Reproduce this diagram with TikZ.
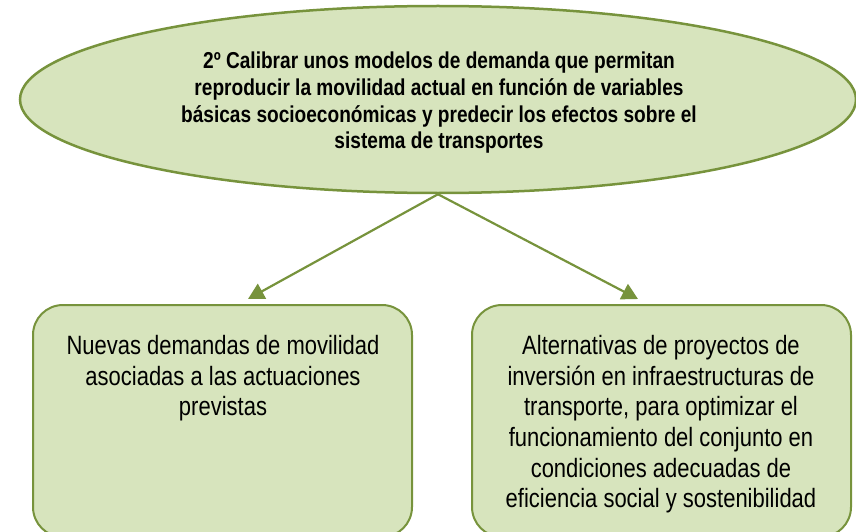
\documentclass[tikz,border=0pt]{standalone}
\usepackage{fontspec}
\setmainfont{Liberation Sans}[FakeStretch=0.83]
\usetikzlibrary{shapes.geometric,arrows.meta}
\definecolor{olivefill}{HTML}{D7E4BD}
\definecolor{oliveline}{HTML}{77933C}
\begin{document}
\begin{tikzpicture}[x=1pt,y=-1pt,
  oval/.style={ellipse,draw=oliveline,fill=olivefill,line width=2.5pt,
    minimum width=836pt,minimum height=187pt,inner sep=0pt},
  ovaltext/.style={align=center,inner sep=0pt,
    font=\fontsize{23}{26.7}\selectfont\bfseries},
  card/.style={rectangle,rounded corners=30pt,draw=oliveline,fill=olivefill,
    line width=2pt,minimum width=379pt,minimum height=232pt,inner sep=0pt},
  cardtext/.style={align=center,anchor=north,inner sep=0pt,
    font=\fontsize{26.5}{30.7}\selectfont},
  link/.style={draw=oliveline,line width=2.2pt,-{Triangle[length=16pt,width=17pt]}}]
\useasboundingbox (0,0) rectangle (856,532);
\node[oval] (e) at (438,99.5) {};
\node[ovaltext] (et) at (439,103) {2º Calibrar unos modelos de demanda que permitan\\
reproducir la movilidad actual en función de variables\\
básicas socioeconómicas y predecir los efectos sobre el\\
sistema de transportes};
\node[card] (bl) at (222.5,421) {};
\node[card] (br) at (661.5,421) {};
\node[cardtext] (tl) at (223,335) {Nuevas demandas de movilidad\\asociadas a las actuaciones\\previstas};
\node[cardtext] (tr) at (661,335) {Alternativas de proyectos de\\inversión en infraestructuras de\\transporte, para optimizar el\\funcionamiento del conjunto en\\condiciones adecuadas de\\eficiencia social y sostenibilidad};
\coordinate (al) at (248,299);
\coordinate (ar) at (638,299);
\path[link] (e.south) -- (al);
\path[link] (e.south) -- (ar);
\end{tikzpicture}
\end{document}
